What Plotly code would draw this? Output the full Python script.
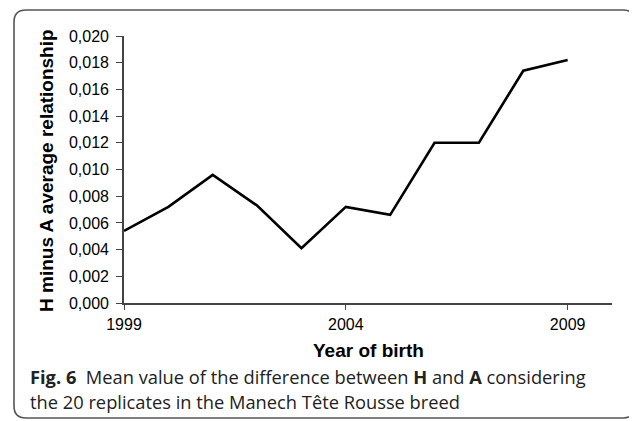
import plotly.graph_objects as go

years = [1999, 2000, 2001, 2002, 2003, 2004, 2005, 2006, 2007, 2008, 2009]
h_minus_a = [0.0054, 0.0072, 0.0096, 0.0073, 0.0041, 0.0072, 0.0066, 0.0120, 0.0120, 0.0174, 0.0182]
y_ticks = [0.000, 0.002, 0.004, 0.006, 0.008, 0.010, 0.012, 0.014, 0.016, 0.018, 0.020]
y_tick_labels = ["0,000", "0,002", "0,004", "0,006", "0,008", "0,010", "0,012", "0,014", "0,016", "0,018", "0,020"]
x_ticks = [1999, 2004, 2009]

OFF = 8  # page body margin
W, H = 637 - OFF, 421 - OFF
L = 124 - OFF
T = 36 - OFF
R = W - (612 - OFF)
B = H - (303 - OFF)
pw, ph = W - L - R, H - T - B

def px(x):
    return (x - OFF - L) / pw

def py(y):
    return (H - B - (y - OFF)) / ph

fig = go.Figure()
fig.add_trace(go.Scatter(x=years, y=h_minus_a, mode="lines",
                         line=dict(color="black", width=2.6), showlegend=False))

# rounded frame
x0, x1, y0, y1, r = 14, 635, 10, 418, 12
path = (f"M {px(x0+r)} {py(y0)} L {px(x1-r)} {py(y0)} Q {px(x1)} {py(y0)} {px(x1)} {py(y0+r)} "
        f"L {px(x1)} {py(y1-r)} Q {px(x1)} {py(y1)} {px(x1-r)} {py(y1)} "
        f"L {px(x0+r)} {py(y1)} Q {px(x0)} {py(y1)} {px(x0)} {py(y1-r)} "
        f"L {px(x0)} {py(y0+r)} Q {px(x0)} {py(y0)} {px(x0+r)} {py(y0)} Z")
fig.add_shape(type="path", path=path, xref="paper", yref="paper",
              line=dict(color="#555555", width=1.6))

cap_font = dict(family="Open Sans", size=18.3, color="#222222")
fig.add_annotation(text="<b>Fig. 6</b>  Mean value of the difference between <b>H</b> and <b>A</b> considering",
                   xref="paper", yref="paper", x=px(28), y=py(376), xanchor="left", yanchor="middle",
                   showarrow=False, font=cap_font)
fig.add_annotation(text="the 20 replicates in the Manech Tête Rousse breed",
                   xref="paper", yref="paper", x=px(28), y=py(401), xanchor="left", yanchor="middle",
                   showarrow=False, font=cap_font)
fig.add_annotation(text="<b>Year of birth</b>", xref="paper", yref="paper", x=px(368), y=py(350),
                   xanchor="center", yanchor="middle", showarrow=False,
                   font=dict(family="Liberation Sans", size=19, color="black"))
fig.add_annotation(text="<b>H minus A average relationship</b>", xref="paper", yref="paper",
                   x=px(46), y=py(171), xanchor="center", yanchor="middle", textangle=-90,
                   showarrow=False, font=dict(family="Liberation Sans", size=19, color="black"))

axis_common = dict(showgrid=False, zeroline=False, showline=True, linecolor="#444444", linewidth=1.6,
                   ticks="outside", tickcolor="#444444", tickwidth=1.3,
                   tickfont=dict(family="Liberation Sans", size=16, color="black"))
fig.update_xaxes(range=[1999, 2010], tickvals=x_ticks, ticktext=[str(t) for t in x_ticks],
                 ticklen=5, ticklabelstandoff=1, **axis_common)
fig.update_yaxes(range=[0, 0.020], tickvals=y_ticks, ticktext=y_tick_labels,
                 ticklen=6, ticklabelstandoff=4, **axis_common)

fig.update_layout(width=W, height=H, margin=dict(l=L, r=R, t=T, b=B),
                  plot_bgcolor="white", paper_bgcolor="white")
fig.write_html("out.html")
